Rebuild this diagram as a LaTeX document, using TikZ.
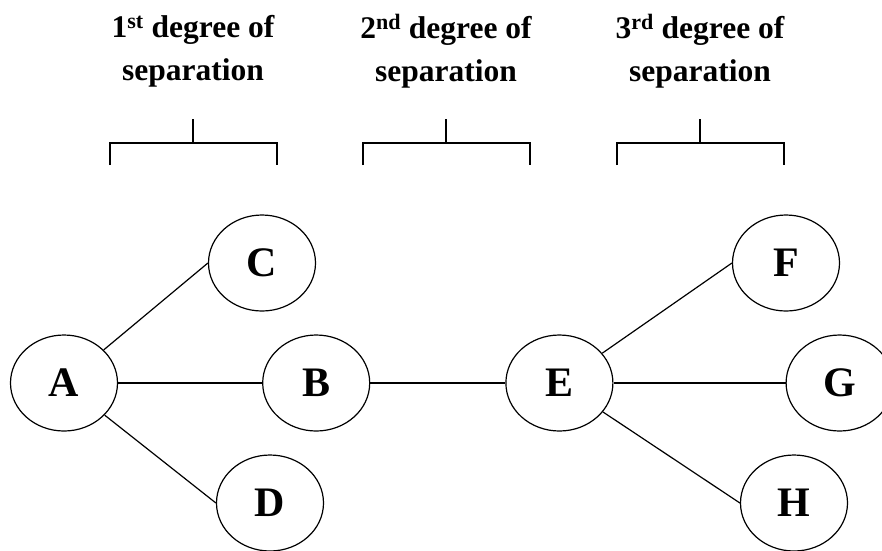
\documentclass[tikz,border=0pt]{standalone}
\usepackage{fontspec}
\setmainfont{Liberation Serif}
\usepackage{tikz}
\usetikzlibrary{shapes.geometric, positioning}

\begin{document}
\begin{tikzpicture}[
        x=1pt, y=-1pt,
        line width=1.2pt,
        node distance=1cm and 1cm,
        person/.style={ellipse, draw, minimum width=107pt, minimum height=96pt, inner sep=0pt, font=\fontsize{42}{42}\selectfont\bfseries},
        header/.style={align=center, inner sep=0pt, font=\fontsize{31.5}{43}\selectfont\bfseries},
        link/.style={draw}
        ]
        \useasboundingbox (0,0) rectangle (882,550);

        % Headers
        \node [header] (first) at (193,51) {1\textsuperscript{st} degree of\\separation};
        \node [header] (second) at (446,51) {2\textsuperscript{nd} degree of\\separation};
        \node [header] (third) at (700,51) {3\textsuperscript{rd} degree of\\separation};

        % Brackets
        \foreach \x in {193,446,700} {
            \draw (\x-83,165) |- (\x+84,143) -- (\x+84,165);
            \draw (\x,143) -- (\x,119);
        }

        % Nodes
        \node [person] (A) at (64,383) {A};
        \node [person, right=144pt of A] (B) {B};
        \node [person] (C) at (262,263) {C};
        \node [person] (D) at (270,503) {D};
        \node [person, right=135pt of B] (E) {E};
        \node [person] (F) at (786,263) {F};
        \node [person, right=172pt of E] (G) {G};
        \node [person] (H) at (794,503) {H};

        % Edges
        \path [link] (A) -- (C.west);
        \path [link] (A) -- (B);
        \path [link] (A) -- (D.west);
        \path [link] (B) -- (E);
        \path [link] (E) -- (F.west);
        \path [link] (E) -- (G);
        \path [link] (E) -- (H.west);
    \end{tikzpicture}
\end{document}
